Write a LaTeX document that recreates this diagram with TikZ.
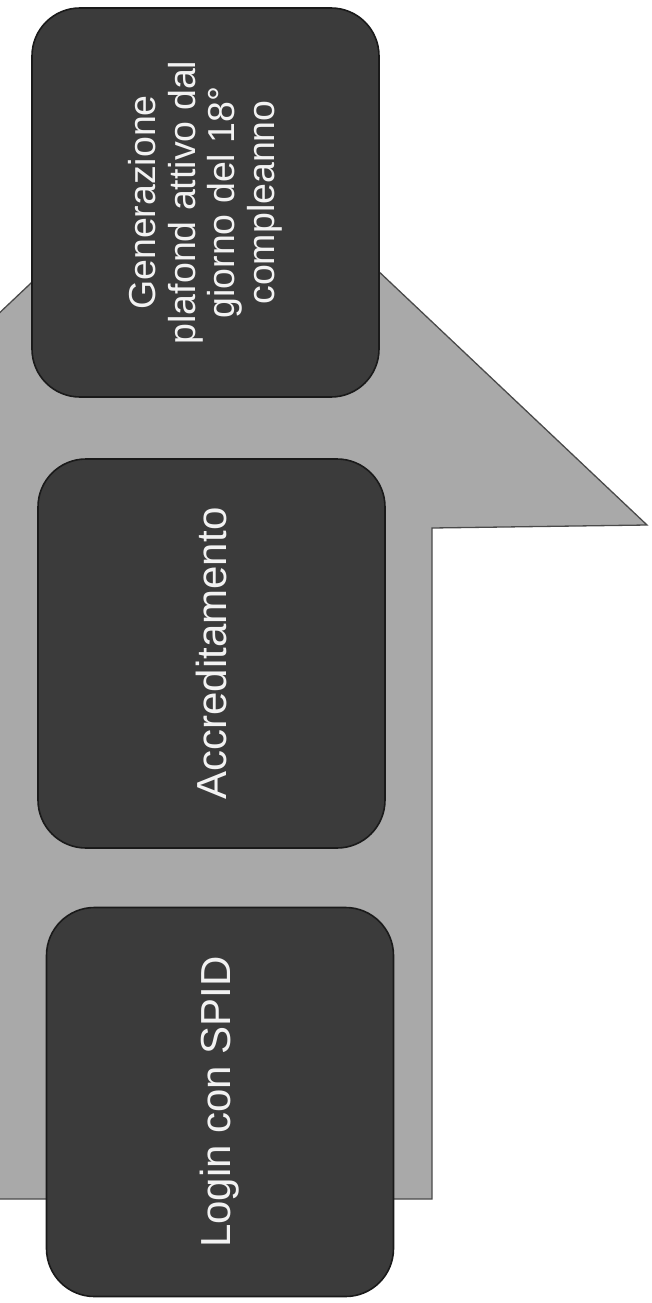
\documentclass[tikz,border=0pt]{standalone}
\usepackage{fontspec}
\setmainfont{Liberation Sans}
\definecolor{arrowgray}{HTML}{A9A9A9}
\definecolor{arrowedge}{HTML}{4A4A4A}
\definecolor{boxfill}{HTML}{3B3B3B}
\definecolor{boxedge}{HTML}{1A1A1A}
\definecolor{boxtext}{HTML}{F2F2F2}
\tikzset{
  stepbox/.style={rotate=90, draw=boxedge, line width=1.6pt, fill=boxfill,
    rounded corners=48pt, text=boxtext, align=center, inner sep=0pt,
    minimum width=389pt, minimum height=347pt},
  bigarrow/.style={fill=arrowgray, draw=arrowedge, line width=1.3pt, line join=miter}
}
\begin{document}
\begin{tikzpicture}[x=1pt,y=-1pt]
\useasboundingbox (0,0) rectangle (651,1303);
\fill[white] (0,0) rectangle (651,1303);
\begin{scope}
\clip (0,0) rectangle (651,1303);
% big upward arrow (partly cut by the left border)
\coordinate (tip) at (211,113);
\coordinate (rb) at (647,525);
\coordinate (rn) at (432,528);
\coordinate (rs) at (432,1199);
\coordinate (ls) at (-10,1199);
\coordinate (ln) at (-10,525);
\coordinate (lb) at (-225,525);
\draw[bigarrow] (tip) -- (rb) -- (rn) -- (rs) -- (ls) -- (ln) -- (lb) -- cycle;
\end{scope}
% three steps
\node[stepbox, font=\fontsize{37.5}{39.5}\selectfont] (gen) at (205.5,202.5)
  {Generazione\\plafond attivo dal\\giorno del 18°\\compleanno};
\node[stepbox, font=\fontsize{42}{48}\selectfont] (acc) at (211.5,653.5) {Accreditamento};
\node[stepbox, font=\fontsize{42}{48}\selectfont] (spid) at (220,1102) {Login con SPID};
\end{tikzpicture}
\end{document}
